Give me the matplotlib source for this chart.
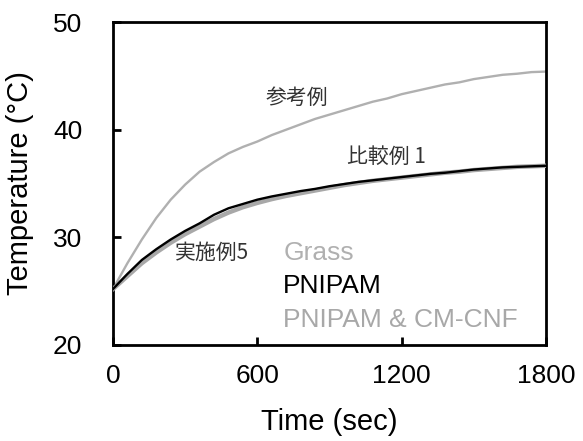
import matplotlib
matplotlib.use("Agg")
import matplotlib.pyplot as plt

plt.rcParams['font.family'] = ['Liberation Sans', 'Noto Sans CJK JP', 'DejaVu Sans']

# Time axis (s) and temperature readings (°C)
time_s = [0, 60, 120, 180, 240, 300, 360, 420, 480, 540, 600, 660, 720, 780, 840,
          900, 960, 1020, 1080, 1140, 1200, 1260, 1320, 1380, 1440, 1500, 1560,
          1620, 1680, 1740, 1800]

grass = [25.2, 27.6, 29.8, 31.8, 33.5, 34.9, 36.1, 37.0, 37.8, 38.4, 38.9, 39.5,
         40.0, 40.5, 41.0, 41.4, 41.8, 42.2, 42.6, 42.9, 43.3, 43.6, 43.9, 44.2,
         44.4, 44.7, 44.9, 45.1, 45.2, 45.35, 45.4]

pnipam = [25.2, 26.6, 27.9, 28.9, 29.8, 30.6, 31.3, 32.1, 32.7, 33.1, 33.5, 33.8,
          34.05, 34.3, 34.5, 34.75, 34.95, 35.15, 35.3, 35.45, 35.6, 35.75, 35.9,
          36.0, 36.15, 36.3, 36.4, 36.5, 36.55, 36.6, 36.65]

pnipam_cnf = [25.2, 26.4, 27.6, 28.6, 29.5, 30.3, 31.0, 31.7, 32.3, 32.8, 33.2,
              33.55, 33.85, 34.1, 34.35, 34.6, 34.85, 35.05, 35.25, 35.4, 35.55,
              35.7, 35.85, 36.0, 36.1, 36.25, 36.35, 36.45, 36.55, 36.6, 36.65]

series_labels = ["Grass", "PNIPAM", "PNIPAM & CM-CNF"]
series_colors = ["#b0b0b0", "#000000", "#a8a8a8"]

x_ticks = [0, 600, 1200, 1800]
y_ticks = [20, 30, 40, 50]

# Callout labels: (text, time, temperature, horizontal alignment)
callouts = [("参考例", 765, 42.95, "center"),
            ("比較例 1", 973, 37.45, "left"),
            ("実施例5", 258, 28.55, "left")]

fig = plt.figure(figsize=(5.83, 4.41), dpi=100)
ax = fig.add_axes([0.1938, 0.2177, 0.9365 - 0.1938, 0.950 - 0.2177])

ax.plot(time_s, grass, color=series_colors[0], lw=1.7, zorder=2)
ax.plot(time_s, pnipam_cnf, color=series_colors[2], lw=3.2, zorder=3)
ax.plot(time_s, pnipam, color=series_colors[1], lw=1.7, zorder=4)

ax.set_xlim(0, 1800)
ax.set_ylim(20, 50)
ax.set_xticks(x_ticks)
ax.set_yticks(y_ticks)

for sp in ax.spines.values():
    sp.set_linewidth(2.0)

ax.tick_params(axis='both', direction='in', length=6, width=2, labelsize=19)
ax.tick_params(axis='x', pad=14)
ax.tick_params(axis='y', pad=22)

ax.set_xlabel("Time (sec)", fontsize=21, labelpad=14)
ax.set_ylabel("Temperature (°C)", fontsize=21, labelpad=14)

# Coloured text key
key_y = [0.263, 0.161, 0.056]
for lab, col, yy in zip(series_labels, series_colors, key_y):
    ax.text(0.393, yy, lab, transform=ax.transAxes, color=col, fontsize=19,
            va='baseline', ha='left')

for txt, tx, ty, ha in callouts:
    ax.text(tx, ty, txt, fontsize=15, color="#333333", ha=ha, va='center',
            family=['Noto Sans CJK JP', 'Liberation Sans'])

fig.savefig("out.png", dpi=100)
